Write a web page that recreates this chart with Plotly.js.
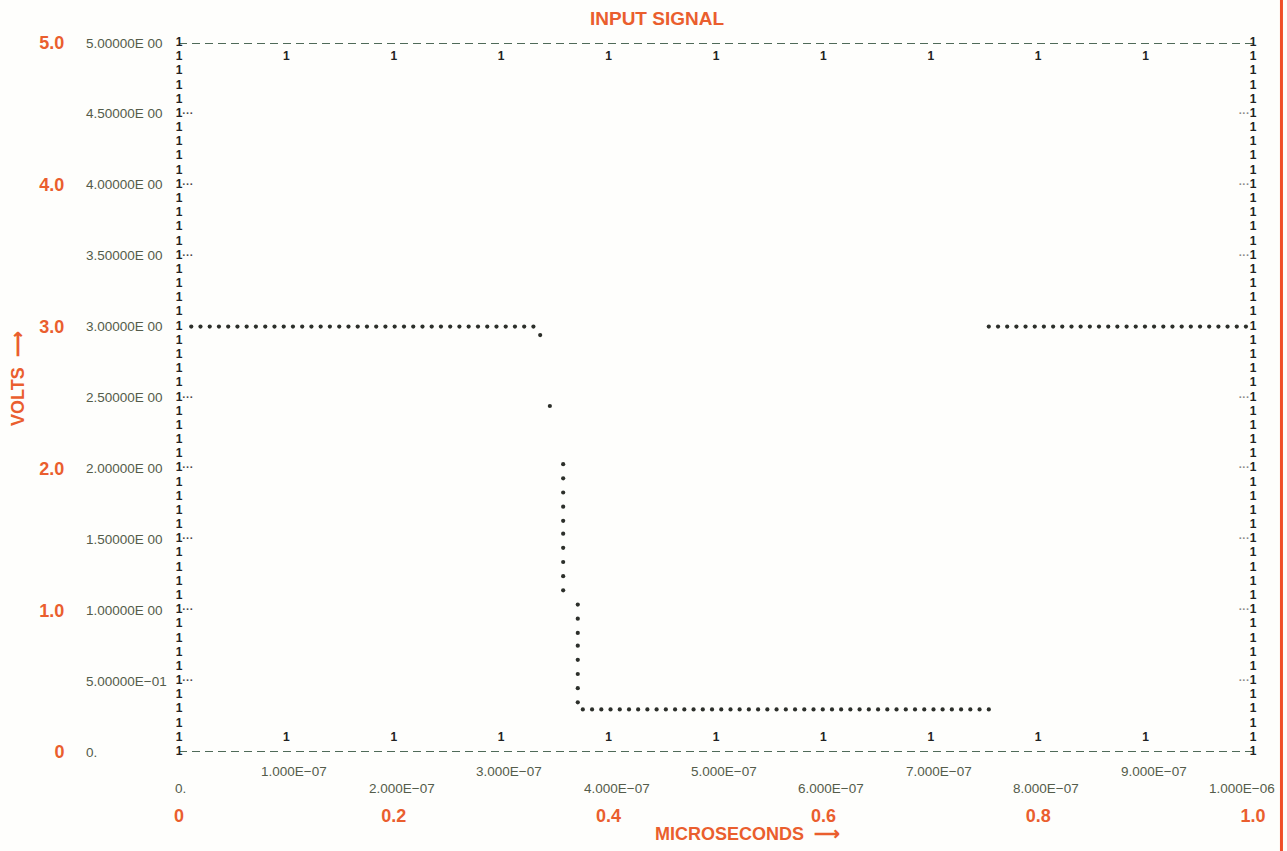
<!DOCTYPE html>
<html>
<head>
<meta charset="utf-8">
<script src="https://cdn.plot.ly/plotly-3.0.1.min.js"></script>
<style>
  html, body { margin: 0; padding: 0; background: #fefefc; }
  #chart { width: 1287px; height: 851px; }
</style>
</head>
<body>
<div id="chart"></div>
<script>
// ---------------- DATA ----------------
// Input signal samples (time in microseconds, volts)
const signalT = [
  0.0114, 0.0200, 0.0286, 0.0372, 0.0458, 0.0544, 0.0630, 0.0716, 0.0803, 0.0889,
  0.0975, 0.1061, 0.1147, 0.1233, 0.1319, 0.1405, 0.1492, 0.1578, 0.1664, 0.1750,
  0.1836, 0.1922, 0.2008, 0.2095, 0.2181, 0.2267, 0.2353, 0.2439, 0.2525, 0.2611,
  0.2697, 0.2784, 0.2870, 0.2956, 0.3042, 0.3128, 0.3214, 0.3300,
  0.3363, 0.3453,
  0.3577, 0.3577, 0.3577, 0.3577, 0.3577, 0.3577, 0.3577, 0.3577, 0.3577, 0.3577,
  0.3713, 0.3713, 0.3713, 0.3713, 0.3713, 0.3713, 0.3713, 0.3713,
  0.3760, 0.3846, 0.3932, 0.4018, 0.4104, 0.4190, 0.4275, 0.4361, 0.4447, 0.4533,
  0.4619, 0.4705, 0.4791, 0.4877, 0.4963, 0.5049, 0.5135, 0.5220, 0.5306, 0.5392,
  0.5478, 0.5564, 0.5650, 0.5736, 0.5822, 0.5908, 0.5994, 0.6080, 0.6165, 0.6251,
  0.6337, 0.6423, 0.6509, 0.6595, 0.6681, 0.6767, 0.6853, 0.6939, 0.7025, 0.7110,
  0.7196, 0.7282, 0.7368, 0.7454, 0.7540,
  0.7540, 0.7626, 0.7711, 0.7797, 0.7882, 0.7968, 0.8053, 0.8139, 0.8224, 0.8310,
  0.8395, 0.8481, 0.8566, 0.8652, 0.8737, 0.8823, 0.8908, 0.8994, 0.9079, 0.9165,
  0.9250, 0.9336, 0.9421, 0.9507, 0.9592, 0.9678, 0.9763, 0.9849, 0.9934
];
const signalV = [
  3.00, 3.00, 3.00, 3.00, 3.00, 3.00, 3.00, 3.00, 3.00, 3.00,
  3.00, 3.00, 3.00, 3.00, 3.00, 3.00, 3.00, 3.00, 3.00, 3.00,
  3.00, 3.00, 3.00, 3.00, 3.00, 3.00, 3.00, 3.00, 3.00, 3.00,
  3.00, 3.00, 3.00, 3.00, 3.00, 3.00, 3.00, 3.00,
  2.94, 2.44,
  2.03, 1.93, 1.83, 1.73, 1.63, 1.54, 1.44, 1.34, 1.24, 1.14,
  1.04, 0.94, 0.84, 0.75, 0.65, 0.55, 0.45, 0.35,
  0.30, 0.30, 0.30, 0.30, 0.30, 0.30, 0.30, 0.30, 0.30, 0.30,
  0.30, 0.30, 0.30, 0.30, 0.30, 0.30, 0.30, 0.30, 0.30, 0.30,
  0.30, 0.30, 0.30, 0.30, 0.30, 0.30, 0.30, 0.30, 0.30, 0.30,
  0.30, 0.30, 0.30, 0.30, 0.30, 0.30, 0.30, 0.30, 0.30, 0.30,
  0.30, 0.30, 0.30, 0.30, 0.30,
  3.00, 3.00, 3.00, 3.00, 3.00, 3.00, 3.00, 3.00, 3.00, 3.00,
  3.00, 3.00, 3.00, 3.00, 3.00, 3.00, 3.00, 3.00, 3.00, 3.00,
  3.00, 3.00, 3.00, 3.00, 3.00, 3.00, 3.00, 3.00, 3.00
];

// Printer frame: rows of "1" characters along both vertical borders
const axisRows = [
  0.0, 0.1, 0.2, 0.3, 0.4, 0.5, 0.6, 0.7, 0.8, 0.9,
  1.0, 1.1, 1.2, 1.3, 1.4, 1.5, 1.6, 1.7, 1.8, 1.9,
  2.0, 2.1, 2.2, 2.3, 2.4, 2.5, 2.6, 2.7, 2.8, 2.9,
  3.0, 3.1, 3.2, 3.3, 3.4, 3.5, 3.6, 3.7, 3.8, 3.9,
  4.0, 4.1, 4.2, 4.3, 4.4, 4.5, 4.6, 4.7, 4.8, 4.9, 5.0
];
const frameLeft = 0.0;
const frameRight = 1.0;
const frameTop = 5.0;
const frameBottom = 0.0;
// "1" markers along the top and bottom borders
const rowMarkX = [0.1, 0.2, 0.3, 0.4, 0.5, 0.6, 0.7, 0.8, 0.9];
const topRowLevel = 4.9;
const bottomRowLevel = 0.1;
// rows of the borders that carry a dotted tick mark
const dotTickRows = [4.5, 4.0, 3.5, 2.5, 2.0, 1.5, 1.0, 0.5];

// printed (computer) tick labels
const yLabelVals = [5.0, 4.5, 4.0, 3.5, 3.0, 2.5, 2.0, 1.5, 1.0, 0.5, 0.0];
const yLabelText = ['5.00000E 00', '4.50000E 00', '4.00000E 00', '3.50000E 00', '3.00000E 00',
  '2.50000E 00', '2.00000E 00', '1.50000E 00', '1.00000E 00', '5.00000E\u221201', '0.'];
const xLabelVals = [0.0, 0.1, 0.2, 0.3, 0.4, 0.5, 0.6, 0.7, 0.8, 0.9, 1.0];
const xLabelText = ['0.', '1.000E\u221207', '2.000E\u221207', '3.000E\u221207', '4.000E\u221207',
  '5.000E\u221207', '6.000E\u221207', '7.000E\u221207', '8.000E\u221207', '9.000E\u221207', '1.000E\u221206'];

// overlaid orange scale
const voltTicks = [0, 1, 2, 3, 4, 5];
const voltTickText = ['0', '1.0', '2.0', '3.0', '4.0', '5.0'];
const usTicks = [0, 0.2, 0.4, 0.6, 0.8, 1.0];
const usTickText = ['0', '0.2', '0.4', '0.6', '0.8', '1.0'];

// ---------------- STYLE ----------------
const ORANGE = '#ea5e2e';
const PRINT = '#222222';
const LABEL = '#545c4a';
const DASH = '#4f6a58';
const printFont = {family: 'Liberation Sans, Arial, sans-serif', size: 12, color: PRINT, weight: 'bold'};
const labelFont = {family: 'Liberation Sans, Arial, sans-serif', size: 13.5, color: LABEL};
const orangeFont = {family: 'Liberation Sans, Arial, sans-serif', size: 18, color: ORANGE, weight: 'bold'};
const HIDE = '<span style="color:rgba(0,0,0,0);font-size:11px">\u00b7\u00b7\u00b7</span>';
const DOTS_L = '<span style="color:#4a4a4a;font-size:11px">\u00b7\u00b7\u00b7</span>';
const DOTS_R = '<span style="color:#8a8a8a;font-size:11px">\u00b7\u00b7\u00b7</span>';

const traces = [];
// dashed borders
traces.push({x: [frameLeft, frameRight], y: [frameTop, frameTop], mode: 'lines',
  line: {color: DASH, width: 2, dash: '8px,5px'}, hoverinfo: 'skip', cliponaxis: false});
traces.push({x: [frameLeft, frameRight], y: [frameBottom, frameBottom], mode: 'lines',
  line: {color: DASH, width: 2, dash: '8px,5px'}, hoverinfo: 'skip', cliponaxis: false});
// vertical "1" columns (with dotted tick marks on the tick rows)
traces.push({x: axisRows.map(() => frameLeft), y: axisRows, mode: 'text',
  text: axisRows.map(r => dotTickRows.includes(r) ? HIDE + '1' + DOTS_L : '1'),
  textposition: 'middle center', textfont: printFont, hoverinfo: 'skip', cliponaxis: false});
traces.push({x: axisRows.map(() => frameRight), y: axisRows, mode: 'text',
  text: axisRows.map(r => dotTickRows.includes(r) ? DOTS_R + '1' + HIDE : '1'),
  textposition: 'middle center', textfont: printFont, hoverinfo: 'skip', cliponaxis: false});
// top / bottom "1" rows
[topRowLevel, bottomRowLevel].forEach(yv => {
  traces.push({x: rowMarkX, y: rowMarkX.map(() => yv), mode: 'text',
    text: rowMarkX.map(() => '1'), textposition: 'middle center',
    textfont: printFont, hoverinfo: 'skip', cliponaxis: false});
});
// the signal
traces.push({x: signalT, y: signalV, mode: 'markers',
  marker: {size: 4.2, color: '#2c2f2a'}, hoverinfo: 'x+y', cliponaxis: false});

const annotations = [];
yLabelVals.forEach((v, i) => {
  annotations.push({xref: 'paper', yref: 'y', x: -0.0885, y: v, xanchor: 'left', yanchor: 'middle',
    text: yLabelText[i], showarrow: false, font: labelFont});
});
xLabelVals.forEach((v, i) => {
  const last = i === xLabelVals.length - 1;
  annotations.push({xref: 'x', yref: 'paper', x: v, y: 0,
    xanchor: last ? 'right' : 'center', yanchor: 'middle',
    xshift: last ? 24 : (i === 0 ? 1 : 8), yshift: (i % 2 === 0) ? -36 : -19,
    text: xLabelText[i], showarrow: false, font: labelFont});
});
annotations.push({xref: 'paper', yref: 'paper', x: 0.5289, y: 0, yshift: -82,
  xanchor: 'center', yanchor: 'middle', showarrow: false,
  text: 'MICROSECONDS \u00a0\u27f6', font: orangeFont});
annotations.push({xref: 'paper', yref: 'paper', x: -0.150, y: 0.5275,
  xanchor: 'center', yanchor: 'middle', textangle: -90, showarrow: false,
  text: 'VOLTS \u00a0\u27f6', font: orangeFont});

const layout = {
  width: 1287, height: 851,
  margin: {l: 179, r: 34, t: 43, b: 99},
  paper_bgcolor: '#fefefc', plot_bgcolor: '#fefefc',
  showlegend: false,
  title: {text: 'INPUT SIGNAL', xref: 'container', x: 0.5105, xanchor: 'center',
    yref: 'container', y: 0.978, yanchor: 'middle',
    font: {family: 'Liberation Sans, Arial, sans-serif', size: 19, color: ORANGE, weight: 'bold'}},
  xaxis: {range: [0, 1], showgrid: false, zeroline: false, showline: false,
    tickmode: 'array', tickvals: usTicks, ticktext: usTickText,
    ticks: 'outside', ticklen: 47, tickcolor: 'rgba(0,0,0,0)', tickfont: orangeFont,
    fixedrange: true},
  yaxis: {range: [0, 5], showgrid: false, zeroline: false, showline: false,
    tickmode: 'array', tickvals: voltTicks, ticktext: voltTickText,
    ticks: 'outside', ticklen: 110, tickcolor: 'rgba(0,0,0,0)', tickfont: orangeFont,
    fixedrange: true},
  annotations: annotations,
  shapes: [{type: 'line', xref: 'paper', yref: 'paper', x0: 1.0265, x1: 1.0265, y0: -0.14, y1: 1.0607,
    line: {color: '#f04e28', width: 3}}]
};

Plotly.newPlot('chart', traces, layout, {displayModeBar: false, staticPlot: true});
</script>
</body>
</html>
